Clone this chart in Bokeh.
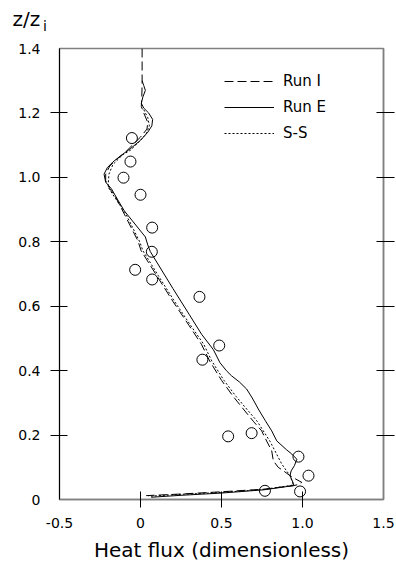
from bokeh.plotting import figure
from bokeh.models import Range1d, LinearAxis, FixedTicker, Legend, LegendItem, Title
from bokeh.embed import file_html
from bokeh.resources import INLINE

FONT = "DejaVu Sans"

# ---- axis ticks ----
x_ticks = [-0.5, 0.0, 0.5, 1.0, 1.5]
x_tick_labels = ["-0.5", "0", "0.5", "1.0", "1.5"]
x_tick_marks = [0.0, 0.5, 1.0]
y_ticks = [0.0, 0.2, 0.4, 0.6, 0.8, 1.0, 1.2, 1.4]
y_tick_labels = ["0", "0.2", "0.4", "0.6", "0.8", "1.0", "1.2", "1.4"]
y_tick_marks = [0.2, 0.4, 0.6, 0.8, 1.0, 1.2]

# ---- observations (open circles) ----
obs_x = [-0.053, -0.062, -0.105, 0.0, 0.072, 0.07, -0.033, 0.072, 0.364, 0.382,
         0.486, 0.541, 0.686, 0.975, 1.037, 0.768, 0.985]
obs_y = [1.122, 1.049, 0.999, 0.946, 0.844, 0.769, 0.713, 0.683, 0.629, 0.434,
         0.478, 0.196, 0.206, 0.133, 0.074, 0.027, 0.025]

# ---- Run I (dashed) ----
run_i_x = [0.01, 0.01, 0.008, 0.005, 0.02, 0.045, 0.04, 0.0, -0.05, -0.10, -0.15,
           -0.19, -0.215, -0.215, -0.19, -0.16, -0.10, -0.016, 0.004, 0.10, 0.20,
           0.30, 0.376, 0.427, 0.50, 0.572, 0.62, 0.696, 0.748, 0.768, 0.81, 0.815,
           0.82, 0.85, 0.882, 0.923, 0.96, 0.996, 0.97, 0.944, 0.76, 0.50, 0.25, 0.035]
run_i_y = [1.40, 1.29, 1.25, 1.22, 1.20, 1.17, 1.15, 1.125, 1.10, 1.075, 1.055,
           1.035, 1.01, 0.99, 0.965, 0.945, 0.886, 0.803, 0.772, 0.695, 0.615,
           0.54, 0.482, 0.43, 0.37, 0.32, 0.29, 0.243, 0.213, 0.192, 0.151, 0.135,
           0.12, 0.10, 0.089, 0.074, 0.063, 0.053, 0.046, 0.043, 0.032, 0.024, 0.017, 0.012]

# ---- Run E (solid) ----
run_e_x = [0.01, 0.02, 0.03, 0.015, 0.005, 0.02, 0.05, 0.075, 0.07, 0.045, 0.0,
           -0.06, -0.12, -0.17, -0.205, -0.225, -0.215, -0.18, -0.14, -0.10, -0.05,
           -0.01, 0.03, 0.045, 0.06, 0.20, 0.30, 0.377, 0.45, 0.49, 0.53, 0.562,
           0.61, 0.655, 0.69, 0.727, 0.77, 0.81, 0.841, 0.90, 0.934, 0.965, 0.95,
           0.93, 0.923, 0.935, 0.944, 0.944, 0.76, 0.50, 0.25, 0.066]
run_e_y = [1.30, 1.285, 1.27, 1.25, 1.23, 1.215, 1.20, 1.18, 1.16, 1.14, 1.115,
           1.09, 1.068, 1.048, 1.03, 1.01, 0.985, 0.965, 0.93, 0.896, 0.865,
           0.84, 0.815, 0.79, 0.77, 0.655, 0.575, 0.513, 0.465, 0.425, 0.40, 0.384,
           0.365, 0.343, 0.315, 0.281, 0.245, 0.213, 0.182, 0.155, 0.141, 0.125, 0.105,
           0.089, 0.074, 0.06, 0.05, 0.043, 0.03, 0.02, 0.013, 0.007]

# ---- S-S (dotted) ----
ss_x = [0.02, 0.045, 0.055, 0.035, -0.01, -0.06, -0.11, -0.17, -0.195, -0.20,
        -0.175, -0.09, -0.005, 0.015, 0.11, 0.21, 0.31, 0.39, 0.44, 0.515, 0.59,
        0.64, 0.72, 0.80, 0.872, 0.923, 0.944, 0.76, 0.50, 0.25, 0.05]
ss_y = [1.21, 1.185, 1.16, 1.135, 1.11, 1.085, 1.07, 1.04, 1.01, 0.97,
        0.95, 0.886, 0.80, 0.772, 0.695, 0.615, 0.54, 0.482, 0.43, 0.37, 0.32,
        0.29, 0.243, 0.18, 0.11, 0.074, 0.045, 0.031, 0.022, 0.016, 0.01]

p = figure(width=396, height=566, output_backend="svg", toolbar_location=None,
           x_range=Range1d(-0.5, 1.5), y_range=Range1d(0, 1.4),
           x_axis_type=None, y_axis_type=None,
           min_border_left=59, min_border_right=13, min_border_top=48, min_border_bottom=67)
p.xgrid.visible = False
p.ygrid.visible = False
p.outline_line_color = "#808080"
p.outline_line_width = 1.5
p.background_fill_color = "white"
p.border_fill_color = "white"

# y-axis title "z/z_i" drawn as two titles above the frame
p.title.text = "z/z"
p.title.align = "left"
p.title.offset = -47
p.title.standoff = -58
p.title.text_font = FONT
p.title.text_font_size = "20px"
p.title.text_font_style = "normal"
p.title.text_color = "black"
sub_i = Title(text="i", align="left", offset=-16.5, standoff=29,
              text_font=FONT, text_font_size="14px", text_font_style="normal",
              text_color="black")
p.add_layout(sub_i, "above")

# bottom axis
xax = LinearAxis(ticker=FixedTicker(ticks=x_ticks, minor_ticks=x_tick_marks),
                 major_label_overrides=dict(zip(x_ticks, x_tick_labels)))
xax.axis_label = "Heat flux (dimensionless)"
xax.axis_label_text_font = FONT
xax.axis_label_text_font_size = "20px"
xax.axis_label_text_font_style = "normal"
xax.axis_label_text_color = "black"
xax.axis_label_standoff = 7
xax.major_label_text_font = FONT
xax.major_label_text_font_size = "14px"
xax.major_label_text_color = "black"
xax.major_label_standoff = 10
xax.major_tick_line_color = None
xax.major_tick_in = 0
xax.major_tick_out = 0
xax.minor_tick_line_color = "black"
xax.minor_tick_in = 8
xax.minor_tick_out = 8
xax.axis_line_color = "#808080"
xax.axis_line_width = 1.5
p.add_layout(xax, "below")

# left axis
yax = LinearAxis(ticker=FixedTicker(ticks=y_ticks, minor_ticks=y_tick_marks),
                 major_label_overrides=dict(zip(y_ticks, y_tick_labels)))
yax.major_label_text_font = FONT
yax.major_label_text_font_size = "14px"
yax.major_label_text_color = "black"
yax.major_label_standoff = 10
yax.major_tick_line_color = None
yax.major_tick_in = 0
yax.major_tick_out = 0
yax.minor_tick_line_color = "black"
yax.minor_tick_in = 8
yax.minor_tick_out = 9
yax.axis_line_color = "black"
yax.axis_line_width = 1
p.add_layout(yax, "left")

# right axis (ticks only)
rax = LinearAxis(ticker=FixedTicker(ticks=y_ticks, minor_ticks=y_tick_marks),
                 major_label_overrides={t: "" for t in y_ticks})
rax.major_label_standoff = 0
rax.major_tick_line_color = None
rax.major_tick_in = 0
rax.major_tick_out = 0
rax.minor_tick_line_color = "black"
rax.minor_tick_in = 7
rax.minor_tick_out = 11
rax.axis_line_color = "#808080"
rax.axis_line_width = 1.5
p.add_layout(rax, "right")

r_i = p.line(run_i_x, run_i_y, line_color="black", line_width=1, line_dash="9 4")
r_e = p.line(run_e_x, run_e_y, line_color="black", line_width=1)
r_s = p.line(ss_x, ss_y, line_color="black", line_width=1, line_dash="2 2")
p.scatter(obs_x, obs_y, marker="circle", size=11, fill_color=None,
          line_color="black", line_width=1)

legend = Legend(items=[LegendItem(label="Run I", renderers=[r_i]),
                       LegendItem(label="Run E", renderers=[r_e]),
                       LegendItem(label="S-S", renderers=[r_s])],
                location=(165, 356), padding=0, margin=0, spacing=6,
                glyph_width=50, glyph_height=20, label_standoff=9,
                label_text_font=FONT, label_text_font_size="15px",
                label_text_color="black",
                border_line_color=None, background_fill_alpha=0)
p.add_layout(legend)

open("out.html", "w").write(file_html(p, INLINE))
